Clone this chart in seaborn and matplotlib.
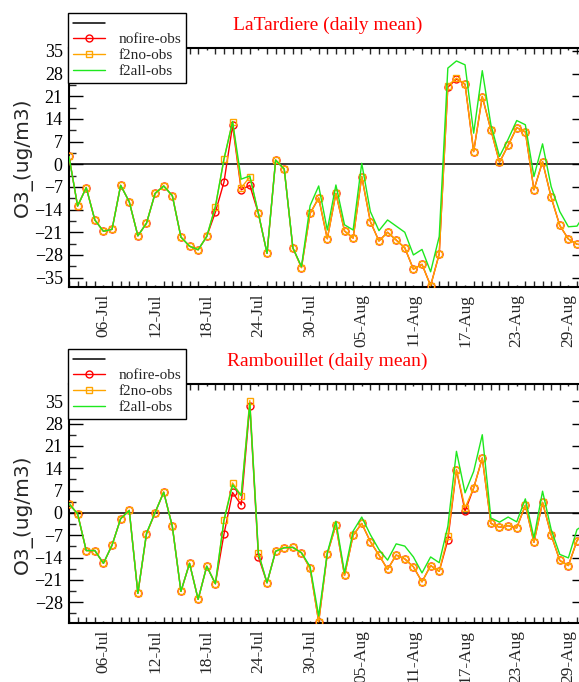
import numpy as np
import pandas as pd
import matplotlib
matplotlib.use("Agg")
import matplotlib.pyplot as plt
import matplotlib.dates as mdates
from matplotlib.ticker import MultipleLocator, FixedLocator
import seaborn as sns

sns.set_style("ticks")
plt.rcParams['font.family'] = ['Liberation Serif', 'DejaVu Serif']

# ---------------- data ----------------
dates = pd.date_range("2010-07-02", "2010-08-31", freq="D")
tick_dates = pd.date_range("2010-07-06", "2010-08-29", freq="6D")

titles = ["LaTardiere (daily mean)", "Rambouillet (daily mean)"]
series_names = ["nofire-obs", "f2no-obs", "f2all-obs"]

lat_nofire = [2.4, -12.9, -7.2, -17.2, -20.7, -20.1, -6.5, -11.6, -22.1, -18.2,
              -9.0, -6.7, -9.7, -22.5, -25.3, -26.4, -22.3, -14.8, -5.5, 12.0,
              -7.9, -6.5, -15.2, -27.5, 1.3, -1.5, -25.8, -31.9, -15.2, -10.4,
              -23.0, -9.0, -20.6, -22.8, -3.8, -17.7, -23.7, -21.0, -23.4, -25.8,
              -32.4, -30.9, -37.5, -27.7, 23.8, 26.3, 24.7, 3.9, 20.9, 10.6,
              0.6, 5.8, 11.3, 10.0, -7.9, 0.8, -10.2, -18.9, -23.1, -24.7, -25.0]
lat_f2no = [2.4, -12.9, -7.2, -17.2, -20.7, -20.1, -6.5, -11.6, -22.1, -18.2,
            -9.0, -6.7, -9.7, -22.5, -25.3, -26.4, -22.3, -13.1, 1.6, 13.2,
            -7.3, -3.9, -15.2, -27.5, 1.3, -1.5, -25.8, -31.9, -15.2, -10.4,
            -23.0, -9.0, -20.6, -22.8, -3.8, -17.7, -23.7, -21.0, -23.4, -25.8,
            -32.4, -30.9, -37.5, -27.7, 24.3, 26.6, 24.7, 3.9, 20.9, 10.6,
            0.6, 5.8, 11.3, 10.0, -7.9, 0.8, -10.2, -18.9, -23.1, -24.7, -25.0]
lat_f2all = [2.4, -12.9, -7.2, -17.2, -20.7, -20.1, -6.5, -11.6, -22.1, -18.2,
             -9.0, -6.7, -9.7, -22.5, -25.3, -26.4, -22.3, -13.1, 1.6, 13.2,
             -4.6, -3.6, -15.2, -27.5, 1.3, -1.5, -25.8, -31.6, -12.8, -6.7,
             -20.3, -6.4, -18.7, -20.3, 0.3, -14.6, -20.5, -17.2, -19.1, -21.0,
             -28.0, -26.3, -33.2, -22.3, 29.7, 31.9, 30.7, 9.6, 28.9, 12.2,
             2.4, 7.7, 13.5, 12.2, -3.8, 6.3, -6.9, -14.6, -19.3, -19.1, -15.0]

ram_nofire = [2.9, -0.3, -11.8, -11.8, -15.8, -10.1, -1.8, 0.8, -25.2, -6.6,
              0.1, 6.5, -4.2, -24.6, -15.8, -27.1, -16.7, -22.2, -6.6, 6.4,
              2.5, 33.6, -13.8, -21.9, -12.0, -10.9, -10.8, -12.5, -17.4, -34.1,
              -12.8, -3.8, -19.6, -7.0, -3.3, -9.0, -13.2, -17.7, -13.2, -14.4,
              -16.9, -21.6, -16.5, -18.3, -8.5, 13.5, 0.5, 7.8, 17.2, -3.3,
              -4.5, -4.0, -4.7, 2.4, -9.2, 3.3, -6.9, -14.9, -16.5, -8.7, -6.0]
ram_f2no = [2.9, -0.3, -11.8, -11.8, -15.8, -10.1, -1.8, 0.8, -25.2, -6.6,
            0.1, 6.5, -4.2, -24.6, -15.8, -27.1, -16.7, -22.2, -2.3, 9.4,
            5.4, 35.2, -12.7, -21.9, -12.0, -10.9, -10.8, -12.5, -17.4, -34.1,
            -12.8, -3.8, -19.6, -7.0, -3.3, -9.0, -13.2, -17.7, -13.2, -14.4,
            -16.9, -21.6, -16.5, -18.3, -7.3, 13.5, 1.6, 7.8, 17.2, -3.3,
            -4.5, -4.0, -4.7, 2.4, -9.2, 3.3, -6.9, -14.9, -16.5, -8.7, -6.0]
ram_f2all = [2.9, -0.3, -11.8, -11.8, -15.8, -10.1, -1.8, 0.8, -25.2, -6.3,
             0.1, 6.5, -4.2, -24.6, -15.8, -27.1, -16.7, -22.2, -2.3, 8.8,
             5.4, 34.4, -12.7, -21.9, -12.0, -10.9, -10.8, -12.5, -16.8, -32.3,
             -12.5, -2.6, -18.8, -5.7, -1.3, -6.8, -11.5, -14.8, -9.7, -10.4,
             -13.8, -18.8, -13.8, -15.6, -4.2, 19.3, 6.3, 13.0, 24.5, -1.6,
             -2.9, -1.3, -2.8, 4.4, -7.8, 6.8, -5.2, -13.0, -14.1, -5.2, -3.5]

panels = [
    dict(title=titles[0], nofire=lat_nofire, f2no=lat_f2no, f2all=lat_f2all,
         yticks=[-35, -28, -21, -14, -7, 0, 7, 14, 21, 28, 35],
         ylim=(-37.9, 35.9), top=48, ylab_y=0.542, leg_top=13),
    dict(title=titles[1], nofire=ram_nofire, f2no=ram_f2no, f2all=ram_f2all,
         yticks=[-28, -21, -14, -7, 0, 7, 14, 21, 28, 35],
         ylim=(-34.5, 40.4), top=384, ylab_y=0.457, leg_top=349),
]

# ---------------- figure ----------------
W, H = 579, 682
fig = plt.figure(figsize=(W / 100, H / 100), dpi=100)

x0, x1 = 69, 585.6
ah = 239

for p in panels:
    ax = fig.add_axes([x0 / W, 1 - (p["top"] + ah) / H, (x1 - x0) / W, ah / H])
    zero = ax.axhline(0, color="black", lw=1.1, zorder=1)

    df = pd.DataFrame({"date": dates, "nofire": p["nofire"],
                       "f2no": p["f2no"], "f2all": p["f2all"]})
    sns.lineplot(data=df, x="date", y="nofire", ax=ax, estimator=None,
                 color="#ff0000", lw=1.0, marker="o", markersize=5.0,
                 markerfacecolor="none", markeredgecolor="#ff0000",
                 markeredgewidth=1.0, zorder=3)
    l1 = ax.lines[-1]
    sns.lineplot(data=df, x="date", y="f2no", ax=ax, estimator=None,
                 color="#ffa500", lw=1.0, marker="s", markersize=4.2,
                 markerfacecolor="none", markeredgecolor="#ffa500",
                 markeredgewidth=1.0, zorder=4)
    l2 = ax.lines[-1]
    sns.lineplot(data=df, x="date", y="f2all", ax=ax, estimator=None,
                 color="#1ee81e", lw=1.0, zorder=5)
    l3 = ax.lines[-1]

    ax.set_xlim(dates[0], dates[-1])
    ax.set_ylim(*p["ylim"])
    ax.set_yticks(p["yticks"])
    ax.yaxis.set_minor_locator(MultipleLocator(3.5))
    ax.xaxis.set_major_locator(FixedLocator(mdates.date2num(tick_dates)))
    ax.xaxis.set_major_formatter(mdates.DateFormatter("%d-%b"))
    ax.xaxis.set_minor_locator(mdates.DayLocator())

    for s in ax.spines.values():
        s.set_visible(True)
        s.set_linewidth(1.5)
        s.set_color("black")

    ax.tick_params(axis="y", which="major", direction="in", length=10, width=1.0,
                   left=True, right=True, labelsize=13, pad=4.5, colors="black")
    ax.tick_params(axis="y", which="minor", direction="in", length=5, width=1.0,
                   left=True, right=True)
    ax.tick_params(axis="x", which="major", direction="in", length=1.5, width=1.0,
                   bottom=True, top=True, labelsize=12.5, pad=5, labelrotation=90)
    ax.tick_params(axis="x", which="minor", direction="in", length=4.3, width=1.0,
                   bottom=True, top=True)

    ax.set_xlabel("")
    ax.set_ylabel("O3_(ug/m3)", family=["DejaVu Sans"], fontsize=14.5)
    ax.yaxis.set_label_coords((22.5 - x0) / (x1 - x0), p["ylab_y"])
    ax.yaxis.label.set_va("center")

    ax.set_title(p["title"], color="#ff0000", fontsize=14, pad=13)

    leg = ax.legend(handles=[zero, l1, l2, l3], labels=[""] + series_names,
                    loc="upper left", bbox_to_anchor=(68 / W, 1 - p["leg_top"] / H),
                    bbox_transform=fig.transFigure, borderaxespad=0,
                    fontsize=11, frameon=True, fancybox=False, framealpha=1,
                    edgecolor="black", handlelength=2.1, handletextpad=0.9,
                    borderpad=0.3, labelspacing=0.15)
    leg.get_texts()[0].set_fontsize(6)
    leg.get_frame().set_linewidth(1.0)
    leg.set_zorder(10)

fig.savefig("out.png", dpi=100)
